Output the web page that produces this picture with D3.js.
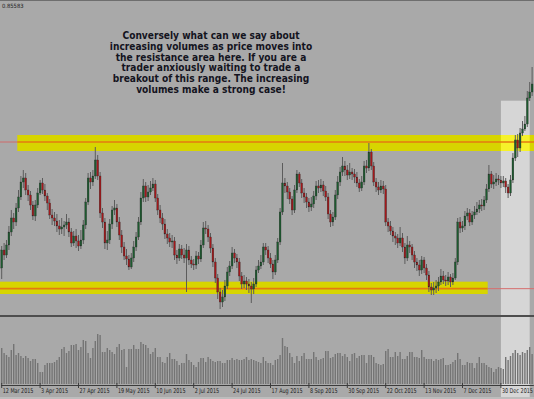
<!DOCTYPE html>
<meta charset="utf-8">
<style>
body { margin: 0; background: #a9a9a9; }
svg { display: block; }
.note {
  font-family: "DejaVu Sans Condensed", "DejaVu Sans", sans-serif;
  font-weight: bold;
  font-size: 10.1px;
  fill: #14141e;
  text-anchor: middle;
}
.axis text {
  font-family: "DejaVu Sans Condensed", "DejaVu Sans", sans-serif;
  font-size: 6.6px;
  fill: #1e1e1e;
}
.axis path, .axis line { stroke: #3c3c3c; }
</style>
<svg width="534" height="399"></svg>
<script src="https://cdn.jsdelivr.net/npm/d3@7"></script>
<script>

var svg = d3.select("svg"),
    width = +svg.attr("width"),
    height = +svg.attr("height");

// daily candles, 12 Mar 2015 onwards (weekdays, broker holidays left out)
var holidays = ["2015-12-25", "2016-01-01"];

var opens = [
0.6996,0.7050,0.7035,0.7065,0.7104,0.7146,0.7134,0.7176,0.7209,0.7254,
0.7266,0.7230,0.7215,0.7185,0.7152,0.7185,0.7221,0.7251,0.7230,0.7212,
0.7191,0.7155,0.7146,0.7137,0.7122,0.7113,0.7119,0.7125,0.7134,0.7104,
0.7071,0.7092,0.7077,0.7062,0.7080,0.7125,0.7194,0.7266,0.7254,0.7272,
0.7320,0.7272,0.7161,0.7134,0.7071,0.7080,0.7128,0.7170,0.7176,0.7134,
0.7095,0.7059,0.7032,0.7023,0.6999,0.7026,0.7059,0.7089,0.7134,0.7206,
0.7242,0.7209,0.7224,0.7236,0.7248,0.7206,0.7170,0.7146,0.7128,0.7098,
0.7086,0.7074,0.7077,0.7035,0.7026,0.7053,0.7035,0.7026,0.7050,0.7020,
0.7008,0.7005,0.7032,0.7023,0.7065,0.7116,0.7113,0.7089,0.7056,0.7014,
0.6966,0.6924,0.6894,0.6909,0.6942,0.6984,0.7002,0.7041,0.7026,0.7014,
0.6972,0.6948,0.6957,0.6948,0.6942,0.6933,0.6948,0.6990,0.7002,0.7014,
0.7059,0.7050,0.7026,0.7008,0.6984,0.7020,0.7074,0.7164,0.7251,0.7242,
0.7224,0.7203,0.7170,0.7230,0.7278,0.7251,0.7221,0.7209,0.7194,0.7179,
0.7188,0.7212,0.7242,0.7236,0.7245,0.7227,0.7209,0.7158,0.7134,0.7149,
0.7215,0.7254,0.7284,0.7302,0.7290,0.7275,0.7284,0.7278,0.7269,0.7251,
0.7236,0.7254,0.7302,0.7296,0.7344,0.7302,0.7254,0.7239,0.7230,0.7242,
0.7233,0.7134,0.7122,0.7107,0.7092,0.7086,0.7071,0.7086,0.7059,0.7026,
0.7065,0.7059,0.7035,0.7014,0.7005,0.6990,0.7020,0.6996,0.6975,0.6939,
0.6930,0.6936,0.6942,0.6954,0.6972,0.6960,0.6957,0.6969,0.6954,0.6966,
0.7014,0.7134,0.7116,0.7122,0.7152,0.7161,0.7134,0.7155,0.7164,0.7173,
0.7185,0.7182,0.7200,0.7233,0.7278,0.7248,0.7254,0.7263,0.7260,0.7251,
0.7257,0.7239,0.7221,0.7260,0.7326,0.7380,0.7356,0.7401,0.7413,0.7428,
0.7506,0.7524];

var closes = [
0.7050,0.7035,0.7065,0.7104,0.7146,0.7134,0.7176,0.7209,0.7254,0.7266,
0.7230,0.7215,0.7185,0.7152,0.7185,0.7221,0.7251,0.7230,0.7212,0.7191,
0.7155,0.7146,0.7137,0.7122,0.7113,0.7119,0.7125,0.7134,0.7104,0.7071,
0.7092,0.7077,0.7062,0.7080,0.7125,0.7194,0.7266,0.7254,0.7272,0.7320,
0.7272,0.7161,0.7134,0.7071,0.7080,0.7128,0.7170,0.7176,0.7134,0.7095,
0.7059,0.7032,0.7023,0.6999,0.7026,0.7059,0.7089,0.7134,0.7206,0.7242,
0.7209,0.7224,0.7236,0.7248,0.7206,0.7170,0.7146,0.7128,0.7098,0.7086,
0.7074,0.7077,0.7035,0.7026,0.7053,0.7035,0.7026,0.7050,0.7020,0.7008,
0.7005,0.7032,0.7023,0.7065,0.7116,0.7113,0.7089,0.7056,0.7014,0.6966,
0.6924,0.6894,0.6909,0.6942,0.6984,0.7002,0.7041,0.7026,0.7014,0.6972,
0.6948,0.6957,0.6948,0.6942,0.6933,0.6948,0.6990,0.7002,0.7014,0.7059,
0.7050,0.7026,0.7008,0.6984,0.7020,0.7074,0.7164,0.7251,0.7242,0.7224,
0.7203,0.7170,0.7230,0.7278,0.7251,0.7221,0.7209,0.7194,0.7179,0.7188,
0.7212,0.7242,0.7236,0.7245,0.7227,0.7209,0.7158,0.7134,0.7149,0.7215,
0.7254,0.7284,0.7302,0.7290,0.7275,0.7284,0.7278,0.7269,0.7251,0.7236,
0.7254,0.7302,0.7296,0.7344,0.7302,0.7254,0.7239,0.7230,0.7242,0.7233,
0.7134,0.7122,0.7107,0.7092,0.7086,0.7071,0.7086,0.7059,0.7026,0.7065,
0.7059,0.7035,0.7014,0.7005,0.6990,0.7020,0.6996,0.6975,0.6939,0.6930,
0.6936,0.6942,0.6954,0.6972,0.6960,0.6957,0.6969,0.6954,0.6966,0.7014,
0.7134,0.7116,0.7122,0.7152,0.7161,0.7134,0.7155,0.7164,0.7173,0.7185,
0.7182,0.7200,0.7233,0.7278,0.7248,0.7254,0.7263,0.7260,0.7251,0.7257,
0.7239,0.7221,0.7260,0.7326,0.7380,0.7356,0.7401,0.7413,0.7428,0.7506,
0.7524,0.7548];

var highs = [
0.7062,0.7071,0.7080,0.7122,0.7170,0.7161,0.7191,0.7230,0.7272,0.7290,
0.7281,0.7245,0.7227,0.7197,0.7200,0.7236,0.7260,0.7266,0.7248,0.7221,
0.7203,0.7173,0.7164,0.7158,0.7140,0.7146,0.7137,0.7158,0.7146,0.7116,
0.7107,0.7113,0.7095,0.7110,0.7140,0.7206,0.7281,0.7284,0.7290,0.7359,
0.7335,0.7284,0.7176,0.7146,0.7107,0.7143,0.7182,0.7200,0.7188,0.7149,
0.7110,0.7074,0.7053,0.7035,0.7041,0.7077,0.7104,0.7149,0.7224,0.7263,
0.7254,0.7245,0.7257,0.7266,0.7260,0.7218,0.7185,0.7161,0.7143,0.7113,
0.7101,0.7095,0.7089,0.7050,0.7068,0.7065,0.7056,0.7068,0.7062,0.7032,
0.7023,0.7047,0.7044,0.7080,0.7134,0.7137,0.7125,0.7101,0.7068,0.7026,
0.6978,0.6936,0.6930,0.6960,0.6999,0.7017,0.7059,0.7053,0.7038,0.7026,
0.6984,0.6975,0.6969,0.6963,0.6954,0.6966,0.7002,0.7020,0.7035,0.7071,
0.7071,0.7062,0.7041,0.7020,0.7035,0.7086,0.7176,0.7311,0.7266,0.7254,
0.7236,0.7212,0.7245,0.7290,0.7284,0.7263,0.7236,0.7221,0.7206,0.7209,
0.7227,0.7257,0.7260,0.7263,0.7257,0.7242,0.7221,0.7170,0.7164,0.7230,
0.7272,0.7299,0.7329,0.7317,0.7305,0.7311,0.7296,0.7293,0.7284,0.7263,
0.7272,0.7317,0.7320,0.7371,0.7353,0.7314,0.7266,0.7254,0.7260,0.7257,
0.7245,0.7146,0.7137,0.7119,0.7104,0.7098,0.7119,0.7101,0.7071,0.7092,
0.7077,0.7068,0.7047,0.7026,0.7020,0.7032,0.7029,0.7008,0.6987,0.6951,
0.6954,0.6960,0.6969,0.6993,0.6987,0.6975,0.6984,0.6978,0.6981,0.7026,
0.7146,0.7149,0.7137,0.7167,0.7176,0.7173,0.7167,0.7182,0.7194,0.7200,
0.7203,0.7212,0.7248,0.7305,0.7287,0.7275,0.7281,0.7275,0.7272,0.7272,
0.7266,0.7248,0.7275,0.7341,0.7395,0.7398,0.7416,0.7437,0.7452,0.7527,
0.7554,0.7599];

var lows = [
0.6963,0.7020,0.7026,0.7050,0.7092,0.7113,0.7122,0.7164,0.7200,0.7236,
0.7215,0.7197,0.7170,0.7140,0.7137,0.7176,0.7215,0.7218,0.7197,0.7170,
0.7143,0.7125,0.7122,0.7104,0.7095,0.7098,0.7092,0.7113,0.7089,0.7059,
0.7062,0.7056,0.7047,0.7053,0.7068,0.7113,0.7185,0.7233,0.7242,0.7263,
0.7260,0.7146,0.7116,0.7053,0.7050,0.7068,0.7113,0.7155,0.7119,0.7080,
0.7041,0.7020,0.7005,0.6990,0.6993,0.7014,0.7047,0.7080,0.7125,0.7194,
0.7194,0.7197,0.7215,0.7227,0.7194,0.7155,0.7131,0.7110,0.7083,0.7068,
0.7059,0.7056,0.7020,0.7008,0.7017,0.7023,0.7011,0.6924,0.7005,0.6996,
0.6990,0.6993,0.7008,0.7014,0.7056,0.7098,0.7074,0.7041,0.6999,0.6951,
0.6903,0.6873,0.6879,0.6897,0.6933,0.6972,0.6993,0.7011,0.6996,0.6957,
0.6933,0.6936,0.6930,0.6921,0.6891,0.6918,0.6939,0.6981,0.6993,0.7005,
0.7035,0.7011,0.6996,0.6963,0.6975,0.7011,0.7065,0.7155,0.7221,0.7203,
0.7188,0.7155,0.7161,0.7221,0.7239,0.7206,0.7191,0.7176,0.7164,0.7167,
0.7176,0.7200,0.7221,0.7224,0.7212,0.7197,0.7143,0.7119,0.7122,0.7140,
0.7203,0.7242,0.7272,0.7272,0.7260,0.7263,0.7260,0.7251,0.7239,0.7224,
0.7227,0.7245,0.7281,0.7287,0.7290,0.7242,0.7224,0.7215,0.7221,0.7218,
0.7122,0.7104,0.7095,0.7074,0.7065,0.7056,0.7062,0.7044,0.7008,0.7017,
0.7041,0.7020,0.6996,0.6987,0.6972,0.6978,0.6981,0.6960,0.6924,0.6915,
0.6915,0.6921,0.6927,0.6945,0.6948,0.6942,0.6945,0.6939,0.6945,0.6960,
0.7005,0.7101,0.7104,0.7110,0.7140,0.7122,0.7125,0.7143,0.7155,0.7161,
0.7167,0.7170,0.7191,0.7224,0.7236,0.7233,0.7242,0.7245,0.7236,0.7239,
0.7221,0.7206,0.7212,0.7251,0.7317,0.7329,0.7344,0.7392,0.7407,0.7419,
0.7497,0.7512];

// tick volume, thousands
var volumes = [
36,31,29,27,34,40,29,31,28,26, 28,26,23,25,25,21,12,12,19,21,
21,21,22,24,27,35,37,31,33,39, 39,40,34,37,44,43,31,26,36,43,
50,49,32,32,36,34,32,30,37,40, 34,35,17,35,35,39,35,35,42,40,
39,36,30,32,36,27,27,22,21,27, 31,25,25,23,19,21,21,30,24,22,
19,17,22,26,26,22,27,25,23,22, 23,23,21,21,24,24,26,24,25,24,
24,25,27,24,25,24,23,22,21,27, 23,21,21,19,24,25,29,46,38,37,
31,27,21,28,23,28,31,25,25,25, 32,27,24,25,26,33,33,26,27,30,
31,31,28,30,27,23,30,31,26,28, 29,29,21,29,29,27,21,20,19,20,
33,35,27,27,32,28,32,25,25,28, 32,32,27,27,26,34,27,25,25,25,
23,25,24,25,26,19,19,20,22,24, 31,25,19,19,22,21,21,16,21,27,
21,21,19,17,16,12,15,17,16,15, 27,24,28,31,34,31,29,32,31,34,
37,30];

var tickDates = ["2015-03-12", "2015-04-03", "2015-04-27", "2015-05-19", "2015-06-10",
  "2015-07-02", "2015-07-24", "2015-08-17", "2015-09-08", "2015-09-30",
  "2015-10-22", "2015-11-13", "2015-12-07", "2015-12-30"];

// drawn objects on the chart
var resistanceZone = [0.7347, 0.7395], resistanceLevel = 0.7374, resistanceFrom = "2015-03-23";
var supportZone = [0.6918, 0.6955], supportLevel = 0.6934, supportTo = "2015-12-22";
var breakoutBox = { from: "2015-12-30", to: "2016-01-18", top: 0.7498 };
var cornerLabel = "0.85583";
var noteLines = [
  "Conversely what can we say about",
  "increasing volumes as price moves into",
  "the resistance area here. If you are a",
  "trader anxiously waiting to trade a",
  "breakout of this range. The increasing",
  "volumes make a strong case!"
];

var parse = d3.timeParse("%Y-%m-%d"),
    fmt = d3.timeFormat("%-d %b %Y"),
    key = d3.timeFormat("%Y-%m-%d");

var dates = d3.timeDay.range(parse("2015-03-12"), parse("2016-02-01"))
    .filter(function(d) { return d.getDay() % 6 !== 0 && holidays.indexOf(key(d)) < 0; })
    .slice(0, closes.length);

var bars = dates.map(function(d, i) {
  return { date: d, open: opens[i], high: highs[i], low: lows[i], close: closes[i], volume: volumes[i] };
});

var priceBottom = 315, volTop = 318, volBottom = 384;

var x = d3.scaleBand()
    .domain(dates.map(key))
    .range([0.5, 533.3]);

var cx = function(k) { return x(k) + x.bandwidth() / 2; };

var y = d3.scaleLinear()
    .domain([0.6855, 0.7800])
    .range([priceBottom, 0]);

var yv = d3.scaleLinear()
    .domain([0, 66])
    .range([volBottom, volTop]);

// window frame
svg.append("rect").attr("width", width).attr("height", height).attr("fill", "#a9a9a9");
svg.append("rect").attr("width", width).attr("height", 1).attr("fill", "#6e6e6e");

// breakout highlight, behind everything
var bx0 = cx(breakoutBox.from), bx1 = cx(breakoutBox.to);
svg.append("rect")
    .attr("x", bx0).attr("y", y(breakoutBox.top))
    .attr("width", bx1 - bx0).attr("height", height - y(breakoutBox.top))
    .attr("fill", "#d6d6d6");

// resistance zone
var rx0 = x(resistanceFrom);
svg.append("rect")
    .attr("x", rx0).attr("y", y(resistanceZone[1]))
    .attr("width", width - rx0).attr("height", y(resistanceZone[0]) - y(resistanceZone[1]))
    .attr("fill", "#d7d500");
svg.append("rect")
    .attr("x", bx0).attr("y", y(resistanceZone[1]))
    .attr("width", bx1 - bx0).attr("height", y(resistanceZone[0]) - y(resistanceZone[1]))
    .attr("fill", "#f6f22a");
svg.append("line")
    .attr("x1", 0).attr("x2", rx0).attr("y1", y(resistanceLevel)).attr("y2", y(resistanceLevel))
    .attr("stroke", "#cf6a6a").attr("stroke-width", 1);
svg.append("line")
    .attr("x1", rx0).attr("x2", width).attr("y1", y(resistanceLevel)).attr("y2", y(resistanceLevel))
    .attr("stroke", "#e47a10").attr("stroke-width", 1.6);

// support zone
var sx1 = x(supportTo);
svg.append("rect")
    .attr("x", 0).attr("y", y(supportZone[1]))
    .attr("width", sx1).attr("height", y(supportZone[0]) - y(supportZone[1]))
    .attr("fill", "#d7d500");
svg.append("line")
    .attr("x1", 0).attr("x2", sx1).attr("y1", y(supportLevel)).attr("y2", y(supportLevel))
    .attr("stroke", "#e47a10").attr("stroke-width", 1.6);
svg.append("line")
    .attr("x1", sx1).attr("x2", width).attr("y1", y(supportLevel)).attr("y2", y(supportLevel))
    .attr("stroke", "#d66e6e").attr("stroke-width", 1);

// candles
var candle = svg.append("g").selectAll("g")
  .data(bars)
  .enter().append("g");

candle.append("line")
    .attr("x1", function(d) { return cx(key(d.date)); })
    .attr("x2", function(d) { return cx(key(d.date)); })
    .attr("y1", function(d) { return y(d.high); })
    .attr("y2", function(d) { return y(d.low); })
    .attr("stroke", "#5c5c5c")
    .attr("stroke-width", 1);

candle.append("rect")
    .attr("x", function(d) { return cx(key(d.date)) - 0.9; })
    .attr("width", 1.8)
    .attr("y", function(d) { return y(Math.max(d.open, d.close)); })
    .attr("height", function(d) { return Math.max(1, Math.abs(y(d.open) - y(d.close))); })
    .attr("fill", function(d) { return d.close >= d.open ? "#1c5a2e" : "#a3181b"; })
    .attr("stroke", "#2a2a2a")
    .attr("stroke-width", 0.3);

// panel separator
svg.append("rect").attr("x", 0).attr("y", priceBottom).attr("width", width).attr("height", 2).attr("fill", "#4e4e4e");

// volumes
svg.append("g").selectAll("rect")
  .data(bars)
  .enter().append("rect")
    .attr("x", function(d) { return cx(key(d.date)) - 0.7; })
    .attr("width", 1.4)
    .attr("y", function(d) { return yv(d.volume); })
    .attr("height", function(d) { return yv(0) - yv(d.volume); })
    .attr("fill", "#747474");

// time axis
var axis = svg.append("g")
    .attr("class", "axis")
    .attr("transform", "translate(0," + (volBottom + 1) + ")")
    .call(d3.axisBottom(x)
      .tickValues(tickDates)
      .tickSizeInner(3)
      .tickSizeOuter(0)
      .tickFormat(function(k) { return fmt(parse(k)); }));

axis.select(".domain").attr("stroke-width", 1.2);
axis.selectAll(".tick line").attr("y1", -2);
axis.selectAll(".tick text")
    .attr("text-anchor", "start")
    .attr("x", 0)
    .attr("y", 0)
    .attr("transform", "translate(1,7.5) scale(0.82,1)")
    .attr("dy", 0);

svg.append("rect").attr("x", 0).attr("y", 397).attr("width", width).attr("height", 2).attr("fill", "#bdbdbd");

// corner value
svg.append("text")
    .attr("x", 2).attr("y", 7.5)
    .attr("font-family", "DejaVu Sans Condensed, sans-serif")
    .attr("font-size", 5.8)
    .attr("fill", "#1e1e1e")
    .text(cornerLabel);

// annotation
svg.append("g").selectAll("text")
  .data(noteLines)
  .enter().append("text")
    .attr("class", "note")
    .attr("x", 211)
    .attr("y", function(d, i) { return 39 + i * 10.8; })
    .text(function(d) { return d; });

</script>
